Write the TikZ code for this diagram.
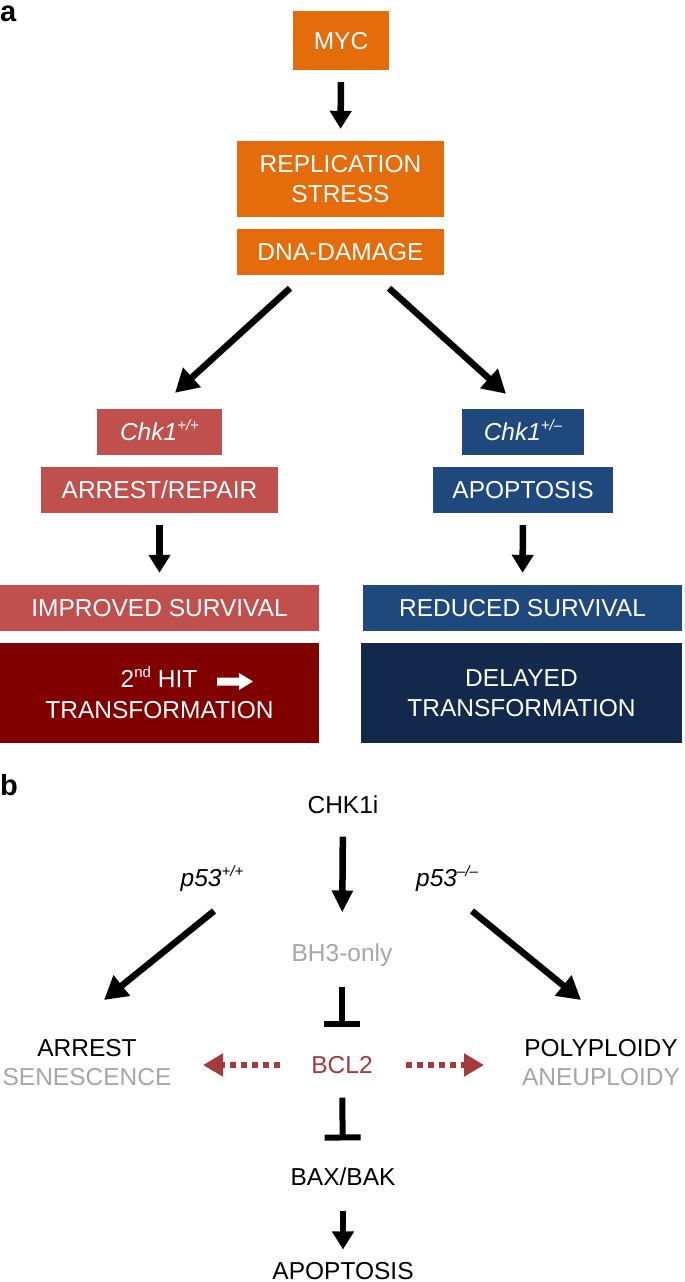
\documentclass[tikz,border=0pt]{standalone}
\usepackage{fontspec}
\setmainfont{Liberation Sans}
\usetikzlibrary{arrows.meta,calc}
\definecolor{orangeA}{HTML}{E46C0A}
\definecolor{redA}{HTML}{C0504D}
\definecolor{redB}{HTML}{800000}
\definecolor{blueA}{HTML}{1F497D}
\definecolor{blueB}{HTML}{13294B}
\definecolor{grayT}{HTML}{A6A6A6}
\definecolor{bclC}{HTML}{A33B3A}
\newcommand\sups[1]{\raisebox{0.4em}{\fontsize{15}{15}\selectfont #1}}
\begin{document}
\begin{tikzpicture}[x=1pt,y=-1pt,
  box/.style={fill=#1, text=white, inner sep=0pt, align=center,
    font=\fontsize{24.5}{29.5}\selectfont},
  sbox/.style={box=#1, text height=17.5pt, text depth=0pt},
  txt/.style={inner sep=0pt, text height=17.5pt, text depth=0pt,
    font=\fontsize{24.5}{29}\selectfont},
  arr/.style={line width=6.5pt, -{Triangle[length=18pt,width=21pt]}},
  darr/.style={line width=6.5pt, -{Triangle[length=23pt,width=25pt]}},
  inh/.style={line width=6pt, -{Rectangle[length=6pt,width=36pt]}},
  dotarr/.style={bclC, line width=6.5pt, dash pattern=on 6pt off 5pt,
    -{Triangle[length=20pt,width=22pt]}},
  lab/.style={anchor=base west, inner sep=0pt, font=\fontsize{29}{29}\selectfont\bfseries}
]
\useasboundingbox (0,0) rectangle (685,1282);

% panel a
\node[lab] (la) at (0,21) {a};
\node[sbox=orangeA, minimum width=96pt, minimum height=59pt] (myc) at (341,40.5) {MYC};
\node[box=orangeA, minimum width=207pt, minimum height=76pt] (rep) at (340.5,179) {REPLICATION\\STRESS};
\node[sbox=orangeA, minimum width=207pt, minimum height=46pt] (dna) at (340.5,252) {DNA-DAMAGE};

\node[sbox=redA, minimum width=125pt, minimum height=46pt] (chkA) at (159.5,432) {\itshape Chk1\sups{+/+}};
\node[sbox=redA, minimum width=237pt, minimum height=46pt] (arrA) at (159.5,490) {ARREST/REPAIR};
\node[sbox=redA, minimum width=319pt, minimum height=46pt] (impr) at (159.5,608) {IMPROVED SURVIVAL};
\node[box=redB, minimum width=319pt, minimum height=100pt] (hit) at (159.5,693)
  {\hspace*{50pt}2\sups{nd} HIT\hspace*{51pt}\\[2pt]TRANSFORMATION};

\node[sbox=blueA, minimum width=122pt, minimum height=46pt] (chkB) at (523,432) {\itshape Chk1\sups{+/--}};
\node[sbox=blueA, minimum width=180pt, minimum height=46pt] (apoA) at (523,490) {APOPTOSIS};
\node[sbox=blueA, minimum width=319pt, minimum height=46pt] (redu) at (522.5,608) {REDUCED SURVIVAL};
\node[box=blueB, minimum width=321pt, minimum height=100pt] (dely) at (521.5,693) {DELAYED\\TRANSFORMATION};

\fill[white] (217,677.5) -- (239,677.5) -- (239,673) -- (253,681.5) -- (239,690) -- (239,685.5) -- (217,685.5) -- cycle;

\draw[arr, shorten <=12pt, shorten >=12pt] (myc.south) -- (rep.north);
\draw[darr] ([shift={(-50.5,13)}]dna.south) -- ([shift={(15.5,-16)}]chkA.north);
\draw[darr] ([shift={(48.5,13)}]dna.south) -- ([shift={(-17,-15)}]chkB.north);
\draw[arr, shorten <=12pt, shorten >=12pt] (arrA.south) -- (impr.north);
\draw[arr, shorten <=12pt, shorten >=12pt] (apoA.south) -- (redu.north);

% panel b
\node[lab] (lb) at (0,795) {b};
\node[txt] (chki) at (343,805) {CHK1i};
\node[txt] (p53a) at (212,878) {\itshape p53\sups{+/+}};
\node[txt] (p53b) at (447,878) {\itshape p53\sups{--/--}};
\node[txt, text=grayT] (bh3) at (342,953) {BH3-only};
\node[txt] (arrest) at (87,1048) {ARREST};
\node[txt, text=grayT] (sen) at (87,1077) {SENESCENCE};
\node[txt, text=bclC] (bcl) at (342,1065) {BCL2};
\node[txt] (poly) at (601,1048) {POLYPLOIDY};
\node[txt, text=grayT] (aneu) at (601,1077) {ANEUPLOIDY};
\node[txt] (bax) at (343,1177) {BAX/BAK};
\node[txt] (apoB) at (343,1270.5) {APOPTOSIS};

\coordinate (ltip) at (203,1065);
\coordinate (rtip) at (484,1065);

\draw[arr, -{Triangle[length=22pt,width=20pt]}, shorten <=22.6pt, shorten >=31.6pt] (chki.south) -- (bh3.north);
\draw[darr] ([shift={(2,33)}]p53a.center) -- ([shift={(17,-48)}]arrest.center);
\draw[darr] ([shift={(25,33)}]p53b.center) -- ([shift={(-20,-48)}]poly.center);
\draw[inh, shorten <=24.6pt, shorten >=28.6pt] (bh3.south) -- (bcl.north);
\draw[inh, shorten <=23.6pt, shorten >=27.6pt] (bcl.south) -- (bax.north);
\draw[arr, shorten <=24.6pt, shorten >=12.1pt] (bax.south) -- (apoB.north);
\draw[dotarr] ([xshift=-62pt]bcl.center) -- (ltip);
\draw[dotarr] ([xshift=64pt]bcl.center) -- (rtip);
\end{tikzpicture}
\end{document}
